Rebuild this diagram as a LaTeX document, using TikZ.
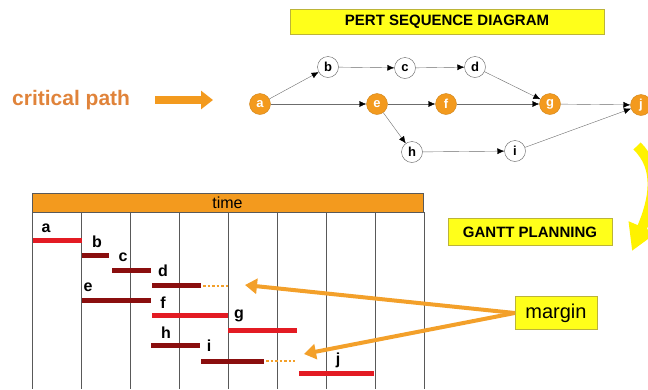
\documentclass[tikz,border=0pt]{standalone}
\usepackage{fontspec}
\setmainfont{Liberation Sans}
\usetikzlibrary{arrows.meta}
\definecolor{pertorange}{HTML}{F39A1E}
\definecolor{critorange}{HTML}{E0833A}
\definecolor{arroworange}{HTML}{F3A02A}
\definecolor{barred}{HTML}{E31B23}
\definecolor{bardark}{HTML}{8A0E0E}
\definecolor{boxyellow}{HTML}{FFFF1A}

\begin{document}
\begin{tikzpicture}[x=1pt,y=-1pt]
\tikzstyle{every node}+=[inner sep=0pt]
\tikzstyle{ev}=[draw=gray!75!black, circle, minimum size=21pt, fill=white, font=\bfseries\fontsize{13}{13}\selectfont]
\tikzstyle{crit}=[ev, fill=pertorange, draw=pertorange!85!black, text=white]
\tikzstyle{act}=[draw=gray!85!black, -{Latex[length=7pt,width=6pt,color=black]}]
\tikzstyle{label}=[draw=yellow!70!black, fill=boxyellow]
\tikzstyle{critbar}=[barred, line width=5pt]
\tikzstyle{slackbar}=[bardark, line width=5pt]
\tikzstyle{barname}=[font=\bfseries\fontsize{16}{16}\selectfont]
\tikzstyle{slack}=[arroworange, line width=2.5pt, dotted]
\tikzstyle{marginarrow}=[arroworange, line width=4pt, -{Triangle[length=12pt,width=15pt]}]
\useasboundingbox (0,0) rectangle (648,389);
\node[label, minimum width=314pt, minimum height=25pt, font=\bfseries\fontsize{15}{15}\selectfont] (pert) at (447,22) {PERT SEQUENCE DIAGRAM};
\node[text=critorange, anchor=west, font=\bfseries\fontsize{21}{21}\selectfont] (critical) at (12,100) {critical path};
\coordinate (cpstart) at (155,100);
\coordinate (cpend) at (213,100);
\draw[pertorange, line width=8pt, -{Triangle[length=12pt,width=18pt]}] (cpstart) -- (cpend);
\node[crit] (a) at (260,104) {a};
\node[ev] (b) at (328,67) {b};
\node[ev] (c) at (405,68) {c};
\node[ev] (d) at (475,67) {d};
\node[crit] (e) at (377,104) {e};
\node[crit] (f) at (446,104) {f};
\node[crit] (g) at (550,104) {g};
\node[crit] (j) at (641,105) {j};
\node[ev] (h) at (412,152) {h};
\node[ev] (i) at (515,151) {i};
\draw[act] (a) -- (b);
\draw[act] (b) -- (c);
\draw[act] (c) -- (d);
\draw[act] (d) -- (g);
\draw[act] (a) -- (e);
\draw[act] (e) -- (f);
\draw[act] (f) -- (g);
\draw[act] (g) -- (j);
\draw[act] (e) -- (h);
\draw[act] (h) -- (i);
\draw[act] (i) -- (j);
\coordinate (turnstart) at (637,146);
\coordinate (turnend) at (632,251);
\draw[yellow, line width=10pt, -{Triangle[length=26pt,width=28pt]}] (turnstart) .. controls (660,168) and (654,200) .. (turnend);
\node[label, minimum width=164pt, minimum height=27pt, font=\bfseries\fontsize{15}{15}\selectfont] (gantt) at (530,232) {GANTT PLANNING};
\node[draw=gray!70!black, fill=pertorange, minimum width=391pt, minimum height=19pt, font=\fontsize{16}{16}\selectfont] (time) at (227.5,202.5) {time};
\foreach \k in {0,...,8}
  \draw[gray!70!black] (32+49*\k,212) -- (32+49*\k,389);
\draw[critbar] (33,240) -- (82,240);
\draw[slackbar] (82,255) -- (109,255);
\draw[slackbar] (112,270) -- (151,270);
\draw[slackbar] (152,285) -- (201,285);
\draw[slackbar] (82,300) -- (151,300);
\draw[critbar] (152,315) -- (228,315);
\draw[critbar] (228,330) -- (297,330);
\draw[slackbar] (151,345) -- (200,345);
\draw[slackbar] (201,361) -- (264,361);
\draw[critbar] (299,373) -- (374,373);
\draw[slack] (203,286) -- (229,286);
\draw[slack] (266,361) -- (295,361);
\node[barname] (na) at (46,228) {a};
\node[barname] (nb) at (97,242) {b};
\node[barname] (nc) at (123,257) {c};
\node[barname] (nd) at (163,271) {d};
\node[barname] (ne) at (88,287) {e};
\node[barname] (nf) at (163,303) {f};
\node[barname] (ng) at (239,316) {g};
\node[barname] (nh) at (166,333) {h};
\node[barname] (ni) at (209,346) {i};
\node[barname] (nj) at (338,360) {j};
\node[label, minimum width=82pt, minimum height=33pt, font=\fontsize{20}{20}\selectfont] (margin) at (556,313) {margin};
\coordinate (dslack) at (245,285);
\coordinate (islack) at (304,354);
\draw[marginarrow] (margin.west) -- (dslack);
\draw[marginarrow] (margin.west) -- (islack);
\end{tikzpicture}
\end{document}
